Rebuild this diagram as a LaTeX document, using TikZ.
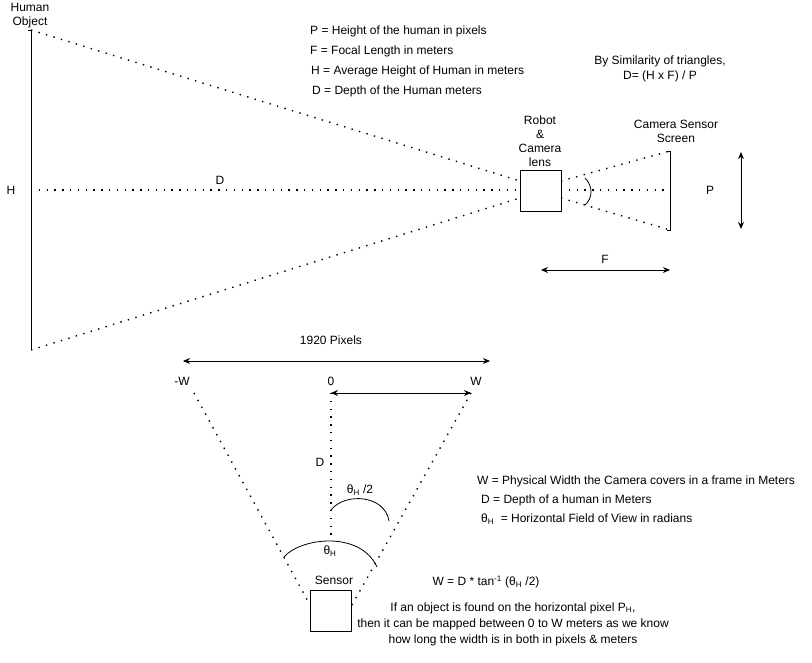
\documentclass[tikz,border=0pt]{standalone}
\usepackage{fontspec}
\setmainfont{Liberation Sans}
\usetikzlibrary{arrows.meta}
\begin{document}
\begin{tikzpicture}[x=1pt,y=-1pt,
  txt/.style={font=\fontsize{12}{14}\selectfont, inner sep=0pt, align=center},
  ltxt/.style={txt, anchor=west, align=left},
  dotl/.style={line width=1.4pt, dash pattern=on 1.4pt off 6.4pt},
  solid1/.style={line width=0.9pt},
  dbl/.style={line width=0.9pt, {Stealth[length=7pt,width=6pt]}-{Stealth[length=7pt,width=6pt]}},
  boxs/.style={draw, line width=0.9pt, minimum width=41pt, minimum height=41pt, inner sep=0pt, fill=white}
]
\useasboundingbox (0,0) rectangle (812,663);

% ---------- top diagram ----------
\coordinate (ht) at (31,30);
\coordinate (hm) at (31,190);
\coordinate (hb) at (31,350);
\draw[solid1] (28,30) -- (ht) -- (hb);
\node[boxs] (robot) at (540.5,190.5) {};
\coordinate (rl1) at (520,181);
\coordinate (rl2) at (520,190);
\coordinate (rl3) at (520,198);
\coordinate (rr1) at (561,181);
\coordinate (rr2) at (561,190);
\coordinate (rr3) at (561,198);
\draw[dotl] (ht) -- (rl1);
\draw[dotl] (hm) -- (rl2);
\draw[dotl] (hb) -- (rl3);
\coordinate (st) at (670,151);
\coordinate (sm) at (670,190);
\coordinate (sb) at (670,230);
\draw[solid1] (667,151) -- (st) -- (sb) -- (667,230);
\draw[dotl] (rr1) -- (st);
\draw[dotl] (rr2) -- (sm);
\draw[dotl] (rr3) -- (sb);
% lens
\draw[line width=0.8pt] (585,178) .. controls (593,186) and (593,198) .. (585,205);

\draw[dbl] (741,152) -- (741,229);
\draw[dbl] (541,270) -- (670,270);

\node[txt] (humanlbl) at (30,16) {Human\\Object};
\node[txt] (hlbl) at (11,190) {H};
\node[txt] (dlbl) at (220,180) {D};
\node[txt] (robotlbl) at (540,141) {Robot\\\&\\Camera\\lens};
\node[txt] (camlbl) at (676,131) {Camera Sensor\\Screen};
\node[txt] (plbl) at (710,190) {P};
\node[txt] (flbl) at (605,259) {F};

\node[ltxt] (t1) at (310,31) {P = Height of the human in pixels};
\node[ltxt] (t2) at (310,51) {F = Focal Length in meters};
\node[ltxt] (t3) at (311,71) {H = Average Height of Human in meters};
\node[ltxt] (t4) at (312,91) {D = Depth of the Human meters};
\node[txt] (sim) at (660,69) {By Similarity of triangles,\\[1pt]D= (H x F) / P};

% ---------- bottom diagram ----------
\node[txt] (pix) at (331,340) {1920 Pixels};
\draw[dbl] (183,361) -- (490,361);
\node[txt] (mw) at (182,381) {-W};
\node[txt] (zero) at (331,381) {0};
\node[txt] (w) at (476,381) {W};
\coordinate (lt) at (194,393);
\coordinate (ct) at (331,393);
\coordinate (rt) at (471,393);
\draw[dbl] (ct) -- (rt);
\node[boxs] (sensor) at (330.5,610.5) {};
\node[txt] (sensorlbl) at (334,580) {Sensor};
\coordinate (slb) at (310,605);
\coordinate (srb) at (352,605);
\coordinate (cb) at (331,540);
\draw[dotl] (lt) -- (slb);
\draw[dotl] (ct) -- (cb);
\draw[dotl] (rt) -- (srb);
% arcs
\draw[line width=0.8pt] (284,557) .. controls (300,538) and (360,530) .. (377,567);
\draw[line width=0.8pt] (331,510) .. controls (345,492) and (385,495) .. (389,521);
\node[txt] (thH) at (330,551) {θ\textsubscript{H}};
\node[txt] (thH2) at (360,490) {θ\textsubscript{H} /2};
\node[txt] (dl2) at (320,462) {D};

\node[ltxt] (b1) at (477,481) {W = Physical Width the Camera covers in a frame in Meters};
\node[ltxt] (b2) at (481,500) {D = Depth of a human in Meters};
\node[ltxt] (b3) at (481,519) {θ\textsubscript{H}\ \ = Horizontal Field of View in radians};
\node[txt] (form) at (486,582) {W = D * tan\textsuperscript{-1} (θ\textsubscript{H} /2)};
\node[txt] (expl) at (513,624) {If an object is found on the horizontal pixel P\textsubscript{H},\\[2pt]then it can be mapped between 0 to W meters as we know\\[2pt]how long the width is in both in pixels \& meters};
\end{tikzpicture}
\end{document}
